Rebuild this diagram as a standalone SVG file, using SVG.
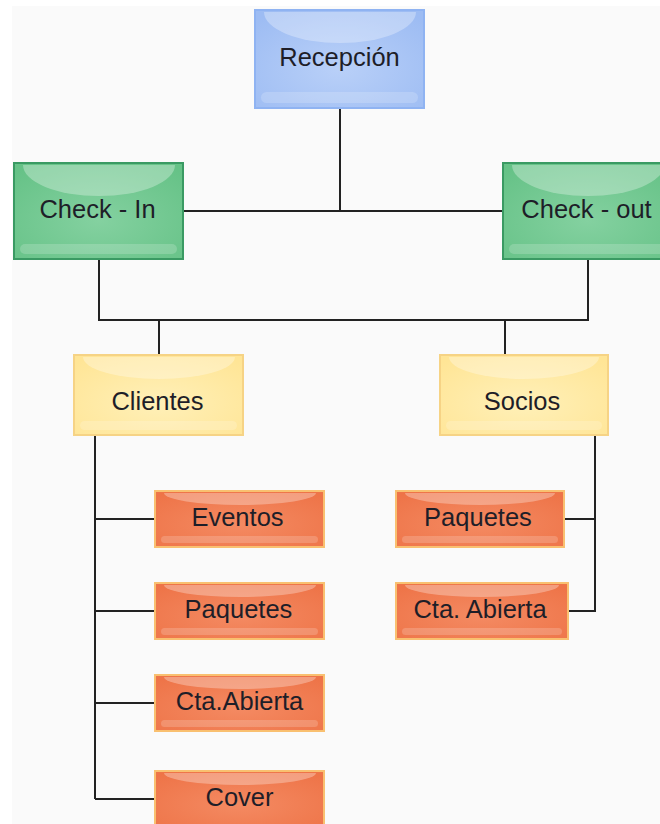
<svg xmlns="http://www.w3.org/2000/svg" width="660" height="824" viewBox="0 0 660 824">
  <style>
    .lbl { font-family: "Liberation Sans", Arial, sans-serif; font-size: 25.5px; fill: #1e1e28; text-anchor: middle; }
    .wire { fill: none; stroke: #222; stroke-width: 2; }
    .blue { fill: url(#gBlue); stroke: #8fb3f2; stroke-width: 2; }
    .green { fill: url(#gGreen); stroke: #3a9a63; stroke-width: 2; }
    .yellow { fill: url(#gYellow); stroke: #f6d385; stroke-width: 2; }
    .orange { fill: url(#gOrange); stroke: #f9c070; stroke-width: 2; }
    .gloss { fill: #ffffff; opacity: 0.3; }
    .band { fill: #ffffff; opacity: 0.18; }
  </style>
  <defs>
    <radialGradient id="gBlue" cx="0.5" cy="0.6" r="0.7">
      <stop offset="0" stop-color="#b9d0f8"/>
      <stop offset="1" stop-color="#9dbcf3"/>
    </radialGradient>
    <radialGradient id="gGreen" cx="0.5" cy="0.6" r="0.7">
      <stop offset="0" stop-color="#84d1a0"/>
      <stop offset="1" stop-color="#66c287"/>
    </radialGradient>
    <radialGradient id="gYellow" cx="0.5" cy="0.6" r="0.7">
      <stop offset="0" stop-color="#fff0b8"/>
      <stop offset="1" stop-color="#ffe596"/>
    </radialGradient>
    <radialGradient id="gOrange" cx="0.5" cy="0.6" r="0.7">
      <stop offset="0" stop-color="#f48a62"/>
      <stop offset="1" stop-color="#ee7448"/>
    </radialGradient>
  </defs>

  <!-- canvas -->
  <rect x="0" y="0" width="660" height="824" fill="#ffffff"/>
  <rect x="12" y="6" width="648" height="818" fill="#fafafa"/>

  <!-- connectors -->
  <g id="connectors">
    <path class="wire" d="M340,108 V211 M183,211 H503"/>
    <path class="wire" d="M99,259 V320 H588 V259 M159,320 V355 M505,320 V355"/>
    <path class="wire" d="M95,435 V799 M95,519 H155 M95,611 H155 M95,703 H155 M95,799 H155"/>
    <path class="wire" d="M595,435 V611 H568 M564,519 H595"/>
  </g>

  <!-- level 0 -->
  <g id="recepcion">
    <rect class="blue" x="255" y="10" width="169" height="98"/>
    <path class="gloss" d="M264,12 A76,31 0 0 0 416,12 Z"/>
    <rect class="band" x="261" y="92" width="157" height="11" rx="5.5"/>
    <text class="lbl" x="339.5" y="66">Recepción</text>
  </g>

  <!-- level 1 -->
  <g id="checkin">
    <rect class="green" x="14" y="163" width="169" height="96"/>
    <path class="gloss" d="M23,165 A76,31 0 0 0 175,165 Z"/>
    <rect class="band" x="20" y="244" width="157" height="10" rx="5"/>
    <text class="lbl" x="97.5" y="218">Check - In</text>
  </g>
  <g id="checkout">
    <rect class="green" x="503" y="163" width="169" height="96"/>
    <path class="gloss" d="M512,165 A76,31 0 0 0 664,165 Z"/>
    <rect class="band" x="509" y="244" width="157" height="10" rx="5"/>
    <text class="lbl" x="586.5" y="218">Check - out</text>
  </g>

  <!-- level 2 -->
  <g id="clientes">
    <rect class="yellow" x="74" y="355" width="169" height="80"/>
    <path class="gloss" d="M83,357 A76,22 0 0 0 235,357 Z"/>
    <rect class="band" x="80" y="421" width="157" height="9" rx="4.5"/>
    <text class="lbl" x="157.5" y="410">Clientes</text>
  </g>
  <g id="socios">
    <rect class="yellow" x="440" y="355" width="168" height="80"/>
    <path class="gloss" d="M449,357 A75,22 0 0 0 599,357 Z"/>
    <rect class="band" x="446" y="421" width="156" height="9" rx="4.5"/>
    <text class="lbl" x="522" y="410">Socios</text>
  </g>

  <!-- level 3: clientes -->
  <g id="eventos">
    <rect class="orange" x="155" y="491" width="169" height="56"/>
    <path class="gloss" d="M164,493 A76,12 0 0 0 316,493 Z"/>
    <rect class="band" x="161" y="536" width="157" height="7" rx="3.5"/>
    <text class="lbl" x="237.5" y="526">Eventos</text>
  </g>
  <g id="paquetes-clientes">
    <rect class="orange" x="155" y="583" width="169" height="56"/>
    <path class="gloss" d="M164,585 A76,12 0 0 0 316,585 Z"/>
    <rect class="band" x="161" y="628" width="157" height="7" rx="3.5"/>
    <text class="lbl" x="238.5" y="618">Paquetes</text>
  </g>
  <g id="cta-clientes">
    <rect class="orange" x="155" y="675" width="169" height="56"/>
    <path class="gloss" d="M164,677 A76,12 0 0 0 316,677 Z"/>
    <rect class="band" x="161" y="720" width="157" height="7" rx="3.5"/>
    <text class="lbl" x="239.5" y="710">Cta.Abierta</text>
  </g>
  <g id="cover">
    <rect class="orange" x="155" y="771" width="169" height="56"/>
    <path class="gloss" d="M164,773 A76,12 0 0 0 316,773 Z"/>
    <text class="lbl" x="239.5" y="806">Cover</text>
  </g>

  <!-- level 3: socios -->
  <g id="paquetes-socios">
    <rect class="orange" x="396" y="491" width="168" height="56"/>
    <path class="gloss" d="M405,493 A75,12 0 0 0 555,493 Z"/>
    <rect class="band" x="402" y="536" width="156" height="7" rx="3.5"/>
    <text class="lbl" x="478" y="526">Paquetes</text>
  </g>
  <g id="cta-socios">
    <rect class="orange" x="396" y="583" width="172" height="56"/>
    <path class="gloss" d="M405,585 A77,12 0 0 0 559,585 Z"/>
    <rect class="band" x="402" y="628" width="160" height="7" rx="3.5"/>
    <text class="lbl" x="480" y="618">Cta. Abierta</text>
  </g>
</svg>
